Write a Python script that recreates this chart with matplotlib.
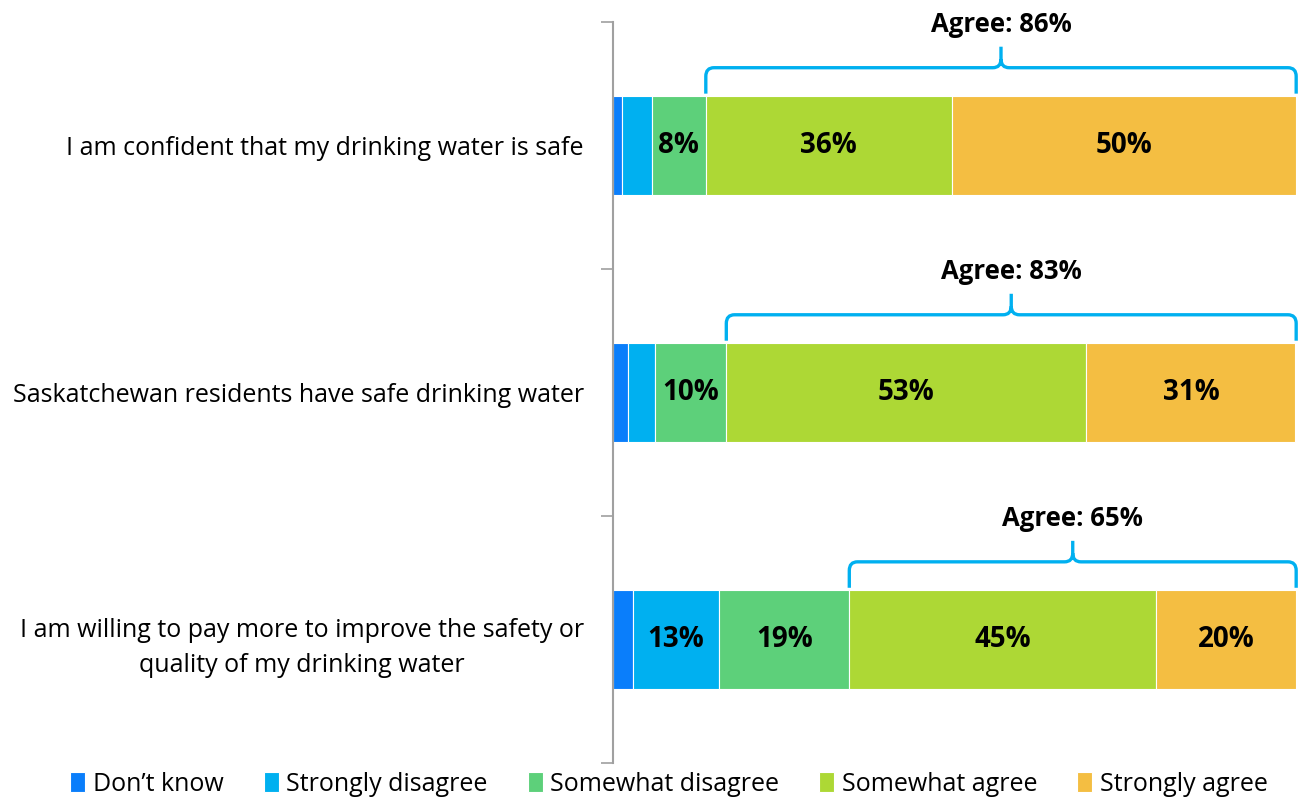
import matplotlib.pyplot as plt
import numpy as np
from matplotlib.path import Path
from matplotlib.patches import PathPatch

plt.rcParams["font.family"] = ["Open Sans", "DejaVu Sans"]

statements = [
    "I am confident that my drinking water is safe",
    "Saskatchewan residents have safe drinking water",
    "I am willing to pay more to improve the safety or\nquality of my drinking water",
]
responses = ["Don\u2019t know", "Strongly disagree", "Somewhat disagree",
             "Somewhat agree", "Strongly agree"]
dont_know = [1.3, 2.2, 2.9]
strongly_disagree = [4.4, 3.9, 12.7]
somewhat_disagree = [7.9, 10.5, 19.0]
somewhat_agree = [36.0, 52.7, 44.9]
strongly_agree = [50.4, 30.6, 20.5]
agree_total = [86, 83, 65]

colors = ["#0A7EFB", "#00B0F0", "#5DD07A", "#ADD835", "#F4BE42"]
bracket_color = "#00B0F0"

series = [dont_know, strongly_disagree, somewhat_disagree, somewhat_agree, strongly_agree]

fig = plt.figure(figsize=(13.04, 8), dpi=100)
ax = fig.add_axes([0.470, 0.046, 0.524, 0.9265])

y = np.arange(len(statements))
h = 0.4
left = np.zeros(len(statements))
for vals, col, name in zip(series, colors, responses):
    vals = np.array(vals)
    ax.barh(y, vals, h, left=left, color=col, edgecolor="white",
            linewidth=0.8, label=name)
    for yi, (l, v) in enumerate(zip(left, vals)):
        if v >= 7.5:
            ax.text(l + v / 2, yi, f"{round(v):.0f}%", ha="center", va="center",
                    fontsize=20, fontweight="bold", color="black")
    left = left + vals

# agree brackets
for yi in range(len(statements)):
    x0 = dont_know[yi] + strongly_disagree[yi] + somewhat_disagree[yi]
    x1 = 100
    xm = (x0 + x1) / 2
    top = yi - h / 2
    ytip, yh, ypk = top - 0.01, top - 0.115, top - 0.2
    rx, ry = 1.2, 0.035
    verts = [(x0, ytip), (x0, yh + ry), (x0, yh), (x0 + rx, yh),
             (xm - rx, yh), (xm, yh), (xm, yh - ry), (xm, ypk),
             (xm, yh - ry), (xm, yh), (xm + rx, yh),
             (x1 - rx, yh), (x1, yh), (x1, yh + ry), (x1, ytip)]
    codes = [Path.MOVETO, Path.LINETO, Path.CURVE3, Path.CURVE3,
             Path.LINETO, Path.CURVE3, Path.CURVE3, Path.LINETO,
             Path.MOVETO, Path.CURVE3, Path.CURVE3,
             Path.LINETO, Path.CURVE3, Path.CURVE3, Path.LINETO]
    ax.add_patch(PathPatch(Path(verts, codes), fill=False, edgecolor=bracket_color,
                           linewidth=2.4, capstyle="butt", joinstyle="round",
                           clip_on=False))
    ax.text(xm, top - 0.29, f"Agree: {agree_total[yi]}%", ha="center", va="center",
            fontsize=18.5, fontweight="bold", clip_on=False)

ax.set_xlim(0, 100)
ax.set_ylim(len(statements) - 0.5, -0.5)
ax.set_yticks(np.arange(len(statements) + 1) - 0.5)
ax.set_yticklabels([])
ax.set_yticks(y, minor=True)
ax.set_yticklabels(statements, minor=True, fontsize=18, multialignment="center",
                   linespacing=1.55)
ax.tick_params(axis="y", which="major", length=9, width=1.2, color="#A0A0A0")
ax.tick_params(axis="y", which="minor", length=0, pad=21)
for lab in ax.get_yticklabels(minor=True):
    lab.set_horizontalalignment("right")
ax.set_xticks([])
for s in ["top", "right", "bottom"]:
    ax.spines[s].set_visible(False)
ax.spines["left"].set_color("#A0A0A0")
ax.spines["left"].set_linewidth(1.5)

fig.legend(loc="lower center", bbox_to_anchor=(0.513, -0.024), ncol=5, frameon=False,
           fontsize=18, handlelength=0.6, handleheight=0.8, handletextpad=0.3,
           columnspacing=1.6)

fig.savefig("out.png", dpi=100)
